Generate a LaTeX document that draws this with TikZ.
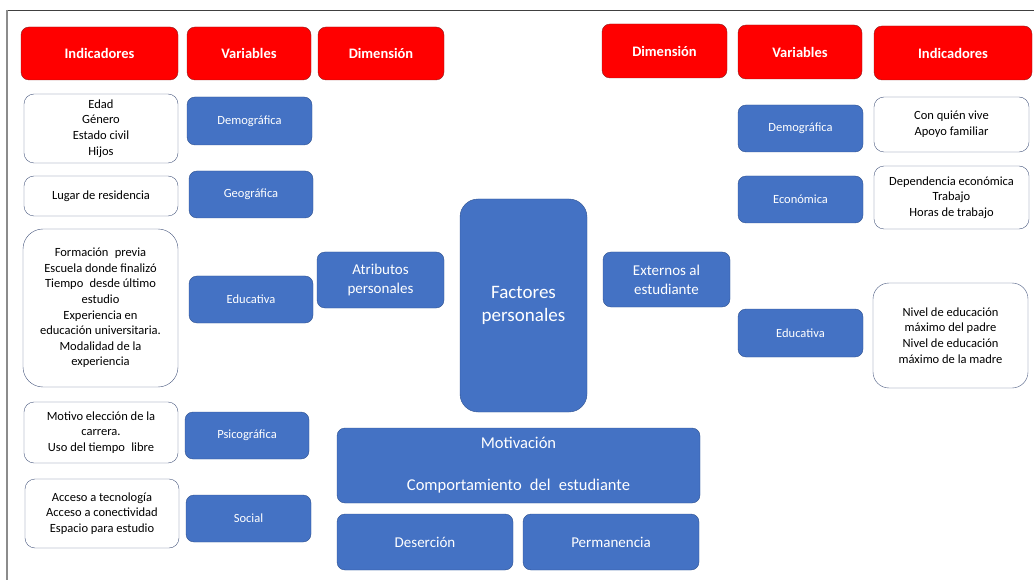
\documentclass[tikz,border=0pt]{standalone}
\usepackage{fontspec}
\setmainfont{Carlito}
\definecolor{hred}{HTML}{FF0000}
\definecolor{hedge}{HTML}{8E1F1F}
\definecolor{vblue}{HTML}{4472C4}
\definecolor{vedge}{HTML}{2F528F}
\definecolor{iedge}{HTML}{4A5A80}

\begin{document}
\begin{tikzpicture}[x=1pt,y=-1pt,
   head/.style={rectangle,draw=hedge,fill=hred,rounded corners=8pt,
    text=white,font=\fontsize{14.5}{17}\selectfont\bfseries,inner sep=0pt},
   var/.style={rectangle,draw=vedge,fill=vblue,rounded corners=8pt,
    text=white,font=\fontsize{12.5}{15.5}\selectfont,inner sep=0pt,align=center},
   dim/.style={var,font=\fontsize{15}{19}\selectfont},
   ind/.style={rectangle,draw=iedge,fill=white,rounded corners=10pt,
    font=\fontsize{12.5}{15.6}\selectfont,inner sep=0pt,align=center}
    ]
  \useasboundingbox (0,0) rectangle (1034,580);

  % -- frame
  \draw[black!75,line width=0.8pt] (7,10) -- (1034,10);
  \draw[black!45,line width=1.5pt] (7,10) -- (7,580);

  % -- headers
  \node[head,minimum width=157pt,minimum height=53pt] at (99.5,53.5) (hInd1) {Indicadores};
  \node[head,minimum width=124pt,minimum height=53pt] at (249,53.5) (hVar1) {Variables};
  \node[head,minimum width=126pt,minimum height=53pt] at (381,53.5) (hDim1) {Dimensión};
  \node[head,minimum width=125pt,minimum height=54pt] at (664.5,51) (hDim2) {Dimensión};
  \node[head,minimum width=124pt,minimum height=54pt] at (800,52) (hVar2) {Variables};
  \node[head,minimum width=158pt,minimum height=54pt] at (953,53) (hInd2) {Indicadores};

  % -- left indicators
  \node[ind,minimum width=154pt,minimum height=69pt] at (101,128.5) (i1)
    {Edad\\Género\\Estado civil\\Hijos};
  \node[ind,minimum width=154pt,minimum height=40pt] at (101,196) (i2)
    {Lugar de residencia};
  \node[ind,minimum width=155pt,minimum height=158pt,rounded corners=20pt] at (100.5,308) (i3)
    {Formación\enspace previa\\Escuela donde finalizó\\Tiempo\enspace desde último\\estudio\\
     Experiencia en\\educación universitaria.\\Modalidad de la\\experiencia};
  \node[ind,minimum width=154pt,minimum height=61pt] at (101,432.5) (i4)
    {Motivo elección de la\\carrera.\\Uso del tiempo\enspace libre};
  \node[ind,minimum width=154pt,minimum height=69pt] at (102,513.5) (i5)
    {Acceso a tecnología\\Acceso a conectividad\\Espacio para estudio};

  % -- left variables
  \node[var,minimum width=125pt,minimum height=48pt] at (249.5,121) (v1) {Demográfica};
  \node[var,minimum width=124pt,minimum height=47pt] at (251,194.5) (v2) {Geográfica};
  \node[var,minimum width=124pt,minimum height=47pt] at (251,299.5) (v3) {Educativa};
  \node[var,minimum width=124pt,minimum height=47pt] at (247,435.5) (v4) {Psicográfica};
  \node[var,minimum width=125pt,minimum height=47pt] at (248.5,518.5) (v5) {Social};

  % -- centre
  \node[dim,minimum width=127pt,minimum height=56pt] at (380.5,280) (d1)
    {Atributos\\personales};
  \node[dim,minimum width=127pt,minimum height=213pt,rounded corners=18pt,
    font=\fontsize{19}{23.5}\selectfont] at (523.5,305.5) (fp)
    {\raisebox{0pt}[0pt][0pt]{}Factores\\personales};
  \node[dim,minimum width=127pt,minimum height=55pt] at (666.5,279.5) (d2)
    {Externos al\\estudiante};
  \node[dim,minimum width=363pt,minimum height=75pt,
    font=\fontsize{16.5}{19}\selectfont] at (518.5,465.5) (mot)
    {Motivación\\[23pt]Comportamiento\enspace del\enspace estudiante};
  \node[dim,minimum width=176pt,minimum height=56pt] at (425,542) (des) {Deserción};
  \node[dim,minimum width=176pt,minimum height=56pt] at (611,542) (per) {Permanencia};

  % -- right variables
  \node[var,minimum width=125pt,minimum height=47pt] at (800.5,128.5) (v6) {Demográfica};
  \node[var,minimum width=125pt,minimum height=47pt] at (800.5,199.5) (v7) {Económica};
  \node[var,minimum width=125pt,minimum height=48pt] at (800.5,333) (v8) {Educativa};

  % -- right indicators
  \node[ind,minimum width=155pt,minimum height=55pt] at (951.5,124.5) (i6)
    {Con quién vive\\Apoyo familiar};
  \node[ind,minimum width=155pt,minimum height=63pt] at (951.5,197.5) (i7)
    {Dependencia económica\\Trabajo\\Horas de trabajo};
  \node[ind,minimum width=155pt,minimum height=105pt,rounded corners=16pt] at (950.5,335.5) (i8)
    {Nivel de educación\\máximo del padre\\Nivel de educación\\máximo de la madre};

\end{tikzpicture}
\end{document}
